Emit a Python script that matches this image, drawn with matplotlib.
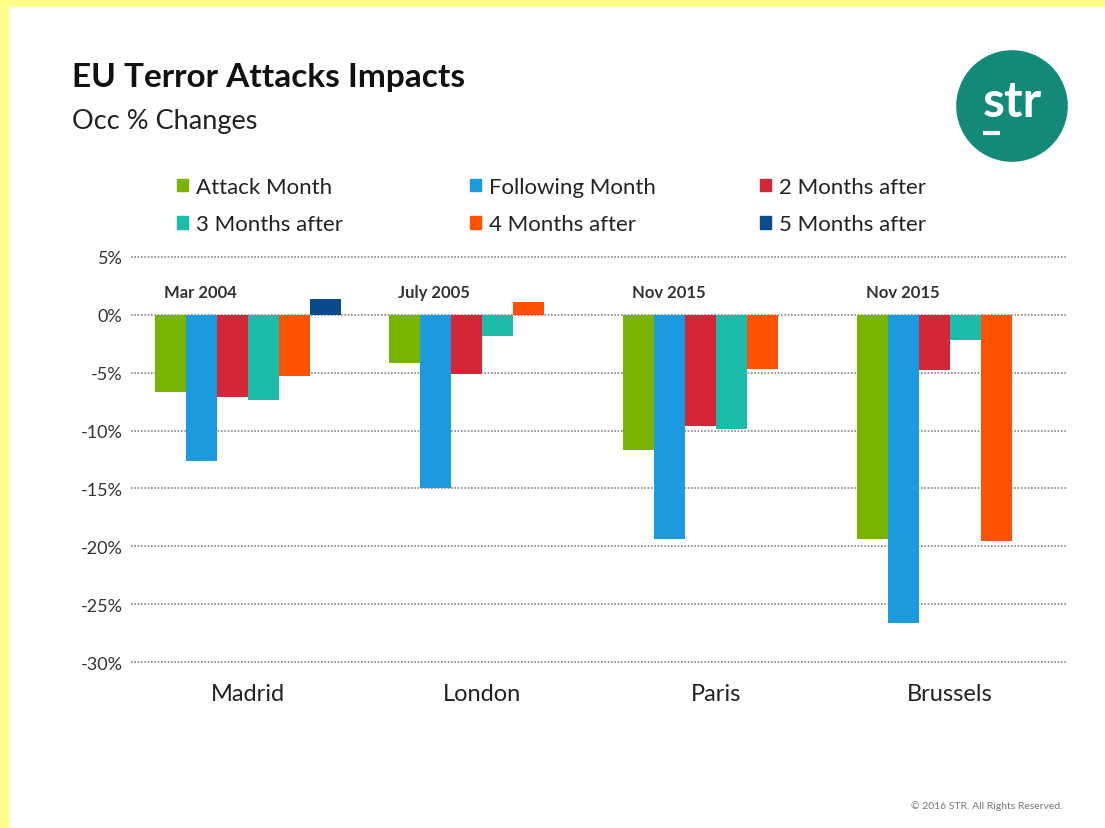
import numpy as np
import matplotlib
matplotlib.use("Agg")
import matplotlib.pyplot as plt
from matplotlib.patches import Rectangle, Circle, Patch

plt.rcParams["font.family"] = ["Lato", "DejaVu Sans"]

cities = ["Madrid", "London", "Paris", "Brussels"]
dates = ["Mar 2004", "July 2005", "Nov 2015", "Nov 2015"]
series = ["Attack Month", "Following Month", "2 Months after",
          "3 Months after", "4 Months after", "5 Months after"]
colors = ["#78b400", "#1b9ae0", "#d42637", "#1cbcaa", "#ff5200", "#0d4a8c"]

attack = [-6.7, -4.2, -11.7, -19.4]
following = [-12.6, -15.0, -19.4, -26.6]
after2 = [-7.1, -5.1, -9.6, -4.8]
after3 = [-7.4, -1.8, -9.9, -2.2]
after4 = [-5.3, 1.1, -4.7, -19.5]
after5 = [1.4, np.nan, np.nan, np.nan]
values = [attack, following, after2, after3, after4, after5]

yticks = [5, 0, -5, -10, -15, -20, -25, -30]

W, H = 1105, 829
fig = plt.figure(figsize=(W / 100, H / 100), dpi=100)
fig.patch.set_facecolor("white")
# yellow frame on top and left
fig.patches.append(Rectangle((0, 1 - 7 / H), 1, 7 / H, transform=fig.transFigure,
                             color="#ffff8c", zorder=0))
fig.patches.append(Rectangle((0, 0), 8 / W, 1, transform=fig.transFigure,
                             color="#ffff8c", zorder=0))

# axes: x 131..1067 px, y from -30.5 (668.8px) to 5.5 (252.2px)
ax = fig.add_axes([131 / W, (H - 668.8) / H, 936 / W, (668.8 - 252.2) / H])
x = np.arange(len(cities))
bw = 0.132
for i, (name, vals, c) in enumerate(zip(series, values, colors)):
    ax.bar(x + (i - 2.5) * bw, vals, width=bw, color=c, label=name, zorder=2)

ax.set_xlim(-0.5, 3.5)
ax.set_ylim(-30.5, 5.5)
ax.set_yticks(yticks)
ax.set_yticklabels([f"{t}%" for t in yticks], fontsize=13, color="#333333")
ax.set_xticks(x)
ax.set_xticklabels(cities, fontsize=17, color="#222222")
ax.tick_params(axis="y", length=0, pad=6)
ax.tick_params(axis="x", length=0, pad=11)
for s in ax.spines.values():
    s.set_visible(False)
ax.grid(axis="y", color="#888888", linestyle=(0, (1, 1)), linewidth=1.2, zorder=1)

for xi, d in zip(x, dates):
    ax.text(xi - 3 * bw + 0.035, 2.0, d, fontsize=12, fontweight="bold",
            color="#333333", ha="left", va="center")

# legend: 3 fixed-width columns, two rows each
handles = [Patch(color=c, label=n) for c, n in zip(colors, series)]
for j, px in enumerate([157, 450, 740]):
    fig.legend([handles[j], handles[j + 3]], [series[j], series[j + 3]],
               loc="upper left", bbox_to_anchor=(px / W, 1 - 158 / H),
               frameon=False, fontsize=16, handlelength=0.5, handleheight=0.5,
               handletextpad=0.35, labelspacing=0.77, labelcolor="#222222")

fig.text(72 / W, 1 - 78 / H, "EU Terror Attacks Impacts", fontsize=24,
         fontweight="bold", color="#111111", va="center", ha="left")
fig.text(72 / W, 1 - 121 / H, "Occ % Changes", fontsize=19.5,
         color="#222222", va="center", ha="left")
fig.text(1063 / W, 1 - 806 / H, "\u00a9 2016 STR. All Rights Reserved.",
         fontsize=7.5, color="#777777", ha="right", va="center")

# logo
lx = fig.add_axes([(1012 - 58) / W, 1 - (107 + 58) / H, 116 / W, 116 / H])
lx.set_xlim(-1, 1)
lx.set_ylim(-1, 1)
lx.set_aspect("equal")
lx.axis("off")
lx.add_patch(Circle((0, 0), 0.95, color="#138a78"))
lx.text(0.0, 0.08, "str", color="white", fontsize=36, ha="center", va="center",
        fontweight="bold")
lx.plot([-0.5, -0.2], [-0.46, -0.46], color="white", linewidth=3,
        solid_capstyle="butt")

fig.savefig("out.png", dpi=100)
